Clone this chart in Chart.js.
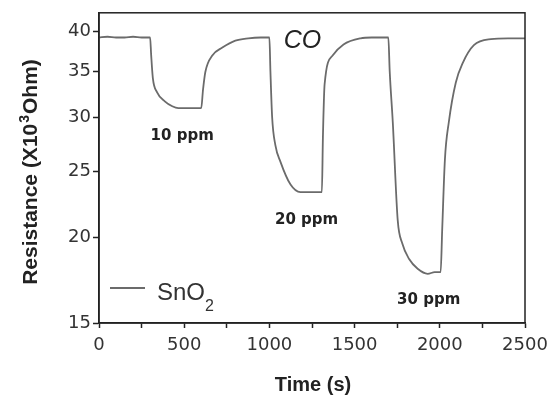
<!DOCTYPE html>
<html>
<head>
<meta charset="utf-8">
<script src="https://cdn.jsdelivr.net/npm/chart.js@4"></script>
<style>
  body { margin: 0; background: #fff; }
  #wrap { width: 558px; height: 398px; }
</style>
</head>
<body>
<div id="wrap"><canvas id="myChart"></canvas></div>
<script>
// time (s) and SnO2 resistance (x10^3 Ohm)
const timeS = [0, 50, 100, 150, 200, 250, 300,
  306, 316, 341, 388, 430, 465, 530, 600,
  610, 624, 665, 724, 800, 876, 950, 1000,
  1006, 1016, 1035, 1065, 1124, 1182, 1250, 1308,
  1314, 1324, 1371, 1435, 1535, 1600, 1698,
  1706, 1724, 1753, 1780, 1820, 1870, 1929, 1970, 2005,
  2014, 2030, 2053, 2094, 2135, 2200, 2300, 2400, 2500];
const resistance = [39.2, 39.3, 39.2, 39.2, 39.3, 39.2, 39.2,
  37.0, 34.2, 32.6, 31.6, 31.1, 30.9, 30.9, 30.9,
  32.8, 34.9, 36.9, 37.9, 38.8, 39.1, 39.2, 39.2,
  35.0, 30.0, 27.3, 25.8, 23.9, 23.3, 23.3, 23.3,
  28.0, 33.5, 36.9, 38.3, 39.1, 39.2, 39.2,
  35.0, 29.5, 21.2, 19.6, 18.6, 18.0, 17.7, 17.8, 17.8,
  20.5, 26.0, 29.5, 33.7, 36.0, 38.2, 39.0, 39.1, 39.1];

const yTicks = [15, 20, 25, 30, 35, 40];
const xTicks = [0, 500, 1000, 1500, 2000, 2500];

const gasLabels = ['10 ppm', '20 ppm', '30 ppm'];
const gasLabelTime = [488, 1218, 1935];
const gasLabelR = [28.1, 21.2, 16.2];

const ink = '#222';
const lineGray = '#6b6b6b';

const extras = {
  id: 'extras',
  afterDraw(chart) {
    const { ctx, chartArea: a, scales } = chart;
    ctx.save();
    // frame
    ctx.strokeStyle = ink;
    ctx.lineWidth = 1.5;
    ctx.strokeRect(a.left, a.top, a.right - a.left, a.bottom - a.top);

    ctx.fillStyle = ink;
    ctx.textAlign = 'center';
    ctx.textBaseline = 'middle';

    // concentration labels
    ctx.font = 'bold 15px "DejaVu Sans"';
    gasLabels.forEach((t, i) => {
      ctx.fillText(t, scales.x.getPixelForValue(gasLabelTime[i]), scales.y.getPixelForValue(gasLabelR[i]));
    });

    // gas name
    ctx.font = 'italic 25px "Liberation Sans"';
    ctx.fillText('CO', scales.x.getPixelForValue(1194), scales.y.getPixelForValue(38.8));

    // legend
    ctx.strokeStyle = lineGray;
    ctx.lineWidth = 2;
    ctx.beginPath();
    ctx.moveTo(110, 288);
    ctx.lineTo(145, 288);
    ctx.stroke();
    ctx.textAlign = 'left';
    ctx.textBaseline = 'alphabetic';
    ctx.fillStyle = '#333';
    ctx.font = '24px "Liberation Sans"';
    ctx.fillText('SnO', 157, 300);
    const w = ctx.measureText('SnO').width;
    ctx.font = '16px "Liberation Sans"';
    ctx.fillText('2', 157 + w, 311);

    // axis titles
    ctx.fillStyle = ink;
    ctx.font = 'bold 20px "Liberation Sans"';
    ctx.textAlign = 'center';
    ctx.textBaseline = 'middle';
    ctx.fillText('Time (s)', 313, 385);

    ctx.translate(31, 172);
    ctx.rotate(-Math.PI / 2);
    const p1 = 'Resistance (X10';
    const p2 = '3';
    const p3 = 'Ohm)';
    ctx.font = 'bold 21px "Liberation Sans"';
    const w1 = ctx.measureText(p1).width;
    const w3 = ctx.measureText(p3).width;
    ctx.font = 'bold 14px "Liberation Sans"';
    const w2 = ctx.measureText(p2).width + 2;
    let x = -(w1 + w2 + w3) / 2;
    ctx.textAlign = 'left';
    ctx.font = 'bold 21px "Liberation Sans"';
    ctx.fillText(p1, x, 0);
    ctx.font = 'bold 14px "Liberation Sans"';
    ctx.fillText(p2, x + w1 + 1, -6);
    ctx.font = 'bold 21px "Liberation Sans"';
    ctx.fillText(p3, x + w1 + w2, 0);
    ctx.restore();
  }
};

const ctx = document.getElementById('myChart');
new Chart(ctx, {
  type: 'line',
  data: {
    datasets: [{
      label: 'SnO2',
      data: timeS.map((t, i) => ({ x: t, y: resistance[i] })),
      borderColor: lineGray,
      borderWidth: 1.8,
      pointRadius: 0,
      cubicInterpolationMode: 'monotone',
      fill: false
    }]
  },
  options: {
    responsive: true,
    maintainAspectRatio: false,
    animation: false,
    layout: { padding: { left: 0, right: 33, top: 10, bottom: 0 } },
    plugins: {
      legend: { display: false },
      tooltip: { enabled: false }
    },
    scales: {
      x: {
        type: 'linear',
        min: 0,
        max: 2500,
        afterFit(scale) { scale.height = 75; },
        ticks: {
          stepSize: 250,
          autoSkip: false,
          maxRotation: 0,
          color: '#333',
          font: { size: 18, family: 'DejaVu Sans' },
          padding: 7,
          callback: (v) => xTicks.includes(v) ? String(v) : ''
        },
        grid: {
          drawOnChartArea: false,
          drawTicks: true,
          tickLength: 5,
          color: ink,
          tickWidth: 1.5
        },
        border: { display: true, color: ink, width: 1.5 }
      },
      y: {
        type: 'logarithmic',
        min: 15,
        max: 42.6,
        afterFit(scale) { scale.width = 99; },
        afterBuildTicks(scale) { scale.ticks = yTicks.map(v => ({ value: v })); },
        ticks: {
          color: '#333',
          font: { size: 18, family: 'DejaVu Sans' },
          padding: 2,
          callback: (v) => String(v)
        },
        grid: {
          drawOnChartArea: false,
          drawTicks: true,
          tickLength: 6,
          color: ink,
          tickWidth: 1.5
        },
        border: { display: true, color: ink, width: 1.5 }
      }
    }
  },
  plugins: [extras]
});
</script>
</body>
</html>
